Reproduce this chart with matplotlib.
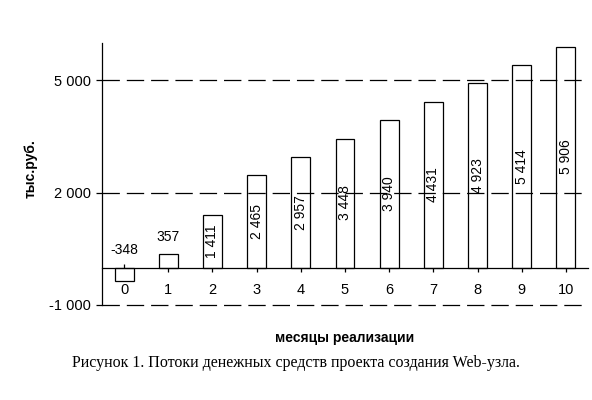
import numpy as np
import matplotlib
matplotlib.use("Agg")
import matplotlib.pyplot as plt

plt.rcParams['font.family'] = ['Liberation Sans', 'DejaVu Sans']
plt.rcParams['lines.scale_dashes'] = False

months = [0, 1, 2, 3, 4, 5, 6, 7, 8, 9, 10]
cash_flow = [-348, 357, 1411, 2465, 2957, 3448, 3940, 4431, 4923, 5414, 5906]
y_ticks = [-1000, 2000, 5000]
y_tick_labels = ["-1 000", "2 000", "5 000"]

def fmt(v):
    return "{:,}".format(v).replace(",", " ")

fig = plt.figure(figsize=(5.92, 4.0), dpi=100)
ax = fig.add_axes([102/592, 95/400, 486/592, 262/400])

ax.bar(months, cash_flow, width=0.43, color='white', edgecolor='black',
       linewidth=0.9, zorder=3)

# dashed gridlines drawn over the bars, as in the original
for yv in y_ticks:
    ax.axhline(yv, color='black', lw=0.9, linestyle=(0, (12.5, 5)),
               zorder=4, clip_on=False)

ax.set_xlim(-0.5, 10.5)
ax.set_ylim(-1000, 6000)

# x axis sits on zero
ax.spines['bottom'].set_position(('data', 0))
ax.spines['top'].set_visible(False)
ax.spines['right'].set_visible(False)
ax.spines['left'].set_linewidth(0.9)
ax.spines['bottom'].set_linewidth(0.9)
ax.spines['bottom'].set_zorder(5)

ax.set_xticks(months)
ax.set_xticklabels([str(m) for m in months], fontsize=10.5)
ax.tick_params(axis='x', direction='inout', length=6, width=0.9, pad=8)
ax.set_yticks(y_ticks)
ax.set_yticklabels(y_tick_labels, fontsize=10.5)
ax.tick_params(axis='y', direction='out', length=4, width=0.9, pad=4)

for m, v in zip(months, cash_flow):
    if v < 500:
        ax.text(m, max(v, 0) + 270, fmt(v), ha='center', va='bottom',
                fontsize=10, zorder=6)
    else:
        ax.text(m, v / 2, fmt(v), ha='center', va='center', rotation=90,
                fontsize=10, zorder=6)

fig.text(31/592, 1 - 169/400, "тыс.руб.", rotation=90, ha='center',
         va='center', fontsize=10, fontweight='bold')
fig.text(345/592, 1 - 338/400, "месяцы реализации", ha='center',
         va='center', fontsize=10, fontweight='bold')
fig.text(296/592, 1 - 363/400,
         "Рисунок 1. Потоки денежных средств проекта создания Web-узла.",
         ha='center', va='center', fontsize=11.5, family='Liberation Serif')

fig.savefig("out.png", dpi=100)
